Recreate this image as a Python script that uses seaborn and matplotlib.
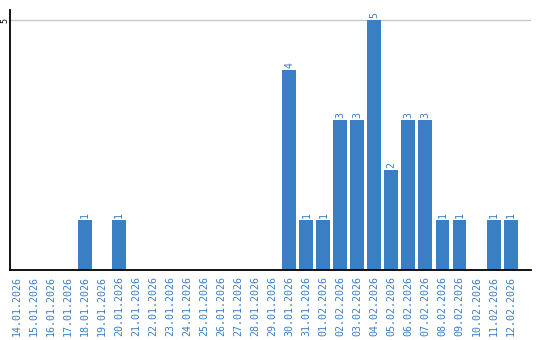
import matplotlib
matplotlib.use("Agg")
import matplotlib.pyplot as plt
import seaborn as sns
import pandas as pd

dates = ["14.01.2026", "15.01.2026", "16.01.2026", "17.01.2026", "18.01.2026",
         "19.01.2026", "20.01.2026", "21.01.2026", "22.01.2026", "23.01.2026",
         "24.01.2026", "25.01.2026", "26.01.2026", "27.01.2026", "28.01.2026",
         "29.01.2026", "30.01.2026", "31.01.2026", "01.02.2026", "02.02.2026",
         "03.02.2026", "04.02.2026", "05.02.2026", "06.02.2026", "07.02.2026",
         "08.02.2026", "09.02.2026", "10.02.2026", "11.02.2026", "12.02.2026"]
counts = [0, 0, 0, 0, 1, 0, 1, 0, 0, 0, 0, 0, 0, 0, 0, 0,
          4, 1, 1, 3, 3, 5, 2, 3, 3, 1, 1, 0, 1, 1]
yticks = [5]

sns.set_style("white")
plt.rcParams['font.family'] = ['DejaVu Sans Mono', 'DejaVu Sans']

df = pd.DataFrame({"date": dates, "count": counts})
blue = "#3a7ec4"

fig = plt.figure(figsize=(5.4, 3.4), dpi=100)
ax = fig.add_axes([10/540, 70/340, 521/540, 260/340])
sns.barplot(data=df, x="date", y="count", color=blue, width=0.82,
            saturation=1, ax=ax, zorder=2, linewidth=0, edgecolor="none")

for i, v in enumerate(counts):
    if v > 0:
        ax.text(i, v + 0.04, str(v), rotation=90, ha="center", va="bottom",
                color=blue, fontsize=7.2)

ax.set_xlim(-0.41, 30.2)
ax.set_ylim(0, 5.2)
ax.set_yticks(yticks)
ax.set_yticklabels([str(t) for t in yticks], rotation=90, va="center",
                   ha="center", fontsize=6, color="black")
ax.yaxis.grid(True, color="#c8c8c8", linewidth=1, zorder=1)
ax.set_axisbelow(True)
ax.tick_params(axis="x", rotation=90, labelsize=7.2, labelcolor=blue,
               length=0, pad=4)
ax.tick_params(axis="y", length=0, pad=4)
for lab in ax.get_xticklabels():
    lab.set_va("top")
ax.set_xlabel("")
ax.set_ylabel("")
for s in ["top", "right"]:
    ax.spines[s].set_visible(False)
for s in ["left", "bottom"]:
    ax.spines[s].set_color("black")
    ax.spines[s].set_linewidth(1.3)
    ax.spines[s].set_zorder(5)

fig.savefig("out.png", dpi=100)
